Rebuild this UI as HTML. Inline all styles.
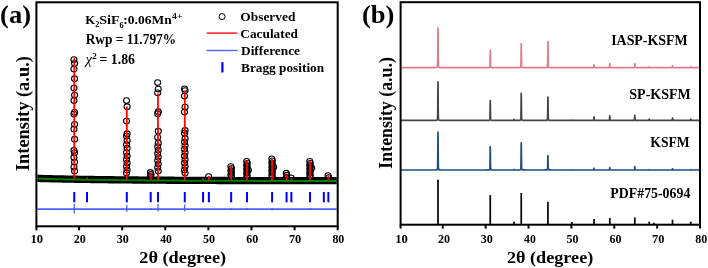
<!DOCTYPE html>
<html><head><meta charset="utf-8"><style>
html,body{margin:0;padding:0;background:#fff;}
svg{display:block;font-family:"Liberation Serif",serif;will-change:transform;}
</style></head><body>
<svg width="708" height="268" viewBox="0 0 708 268">
<rect width="708" height="268" fill="#fff"/>
<polyline points="37.4,178.41 39.4,178.46 41.4,178.51 43.4,178.56 45.4,178.61 47.4,178.66 49.4,178.71 51.4,178.75 53.4,178.80 55.4,178.84 57.4,178.89 59.4,178.93 61.4,178.97 63.4,179.01 65.4,179.05 67.4,179.09 69.4,179.13 71.4,179.16 73.4,179.20 75.4,179.23 77.4,179.27 79.4,179.30 81.4,179.33 83.4,179.37 85.4,179.40 87.4,179.43 89.4,179.46 91.4,179.49 93.4,179.52 95.4,179.55 97.4,179.57 99.4,179.60 101.4,179.63 103.4,179.65 105.4,179.68 107.4,179.70 109.4,179.73 111.4,179.75 113.4,179.77 115.4,179.80 117.4,179.82 119.4,179.84 121.4,179.86 123.4,179.88 125.4,179.90 127.4,179.92 129.4,179.94 131.4,179.96 133.4,179.98 135.4,180.00 137.4,180.01 139.4,180.03 141.4,180.05 143.4,180.06 145.4,180.08 147.4,180.10 149.4,180.11 151.4,180.13 153.4,180.14 155.4,180.16 157.4,180.17 159.4,180.18 161.4,180.20 163.4,180.21 165.4,180.22 167.4,180.24 169.4,180.25 171.4,180.26 173.4,180.27 175.4,180.28 177.4,180.30 179.4,180.31 181.4,180.32 183.4,180.33 185.4,180.34 187.4,180.35 189.4,180.36 191.4,180.37 193.4,180.38 195.4,180.39 197.4,180.40 199.4,180.41 201.4,180.41 203.4,180.42 205.4,180.43 207.4,180.44 209.4,180.45 211.4,180.45 213.4,180.46 215.4,180.47 217.4,180.48 219.4,180.48 221.4,180.49 223.4,180.50 225.4,180.50 227.4,180.51 229.4,180.52 231.4,180.52 233.4,180.53 235.4,180.54 237.4,180.54 239.4,180.55 241.4,180.55 243.4,180.56 245.4,180.56 247.4,180.57 249.4,180.57 251.4,180.58 253.4,180.58 255.4,180.59 257.4,180.59 259.4,180.60 261.4,180.60 263.4,180.61 265.4,180.61 267.4,180.61 269.4,180.62 271.4,180.62 273.4,180.63 275.4,180.63 277.4,180.63 279.4,180.64 281.4,180.64 283.4,180.64 285.4,180.65 287.4,180.65 289.4,180.65 291.4,180.66 293.4,180.66 295.4,180.66 297.4,180.67 299.4,180.67 301.4,180.67 303.4,180.68 305.4,180.68 307.4,180.68 309.4,180.68 311.4,180.69 313.4,180.69 315.4,180.69 317.4,180.69 319.4,180.70 321.4,180.70 323.4,180.70 325.4,180.70 327.4,180.70 329.4,180.71 331.4,180.71 333.4,180.71 335.4,180.71 336.7,180.71" fill="none" stroke="#000" stroke-width="7.3"/>
<g fill="none" stroke="#000" stroke-width="1.1"><ellipse cx="73.97" cy="59.50" rx="3.0" ry="2.8"/><ellipse cx="74.57" cy="63.40" rx="3.0" ry="2.8"/><ellipse cx="73.97" cy="69.00" rx="3.0" ry="2.8"/><ellipse cx="74.57" cy="78.70" rx="3.0" ry="2.8"/><ellipse cx="73.97" cy="88.10" rx="3.0" ry="2.8"/><ellipse cx="74.57" cy="95.10" rx="3.0" ry="2.8"/><ellipse cx="73.97" cy="100.60" rx="3.0" ry="2.8"/><ellipse cx="74.57" cy="112.30" rx="3.0" ry="2.8"/><ellipse cx="73.97" cy="114.00" rx="3.0" ry="2.8"/><ellipse cx="74.57" cy="124.30" rx="3.0" ry="2.8"/><ellipse cx="73.97" cy="129.00" rx="3.0" ry="2.8"/><ellipse cx="74.57" cy="139.20" rx="3.0" ry="2.8"/><ellipse cx="73.97" cy="150.40" rx="3.0" ry="2.8"/><ellipse cx="74.57" cy="152.80" rx="3.0" ry="2.8"/><ellipse cx="73.97" cy="157.50" rx="3.0" ry="2.8"/><ellipse cx="74.57" cy="162.00" rx="3.0" ry="2.8"/><ellipse cx="73.97" cy="167.10" rx="3.0" ry="2.8"/><ellipse cx="74.57" cy="171.00" rx="3.0" ry="2.8"/><ellipse cx="126.51" cy="100.60" rx="3.0" ry="2.8"/><ellipse cx="127.11" cy="106.70" rx="3.0" ry="2.8"/><ellipse cx="126.51" cy="121.10" rx="3.0" ry="2.8"/><ellipse cx="127.11" cy="133.70" rx="3.0" ry="2.8"/><ellipse cx="126.51" cy="136.00" rx="3.0" ry="2.8"/><ellipse cx="127.11" cy="140.50" rx="3.0" ry="2.8"/><ellipse cx="126.51" cy="144.50" rx="3.0" ry="2.8"/><ellipse cx="127.11" cy="148.00" rx="3.0" ry="2.8"/><ellipse cx="126.51" cy="152.50" rx="3.0" ry="2.8"/><ellipse cx="127.11" cy="156.00" rx="3.0" ry="2.8"/><ellipse cx="126.51" cy="159.50" rx="3.0" ry="2.8"/><ellipse cx="127.11" cy="163.00" rx="3.0" ry="2.8"/><ellipse cx="126.51" cy="166.50" rx="3.0" ry="2.8"/><ellipse cx="127.11" cy="170.00" rx="3.0" ry="2.8"/><ellipse cx="126.51" cy="173.00" rx="3.0" ry="2.8"/><ellipse cx="157.67" cy="82.50" rx="3.0" ry="2.8"/><ellipse cx="158.27" cy="89.10" rx="3.0" ry="2.8"/><ellipse cx="157.67" cy="92.80" rx="3.0" ry="2.8"/><ellipse cx="158.27" cy="111.70" rx="3.0" ry="2.8"/><ellipse cx="157.67" cy="113.70" rx="3.0" ry="2.8"/><ellipse cx="158.27" cy="131.20" rx="3.0" ry="2.8"/><ellipse cx="157.67" cy="137.30" rx="3.0" ry="2.8"/><ellipse cx="158.27" cy="142.90" rx="3.0" ry="2.8"/><ellipse cx="157.67" cy="146.50" rx="3.0" ry="2.8"/><ellipse cx="158.27" cy="150.00" rx="3.0" ry="2.8"/><ellipse cx="157.67" cy="153.50" rx="3.0" ry="2.8"/><ellipse cx="158.27" cy="157.00" rx="3.0" ry="2.8"/><ellipse cx="157.67" cy="160.50" rx="3.0" ry="2.8"/><ellipse cx="158.27" cy="164.00" rx="3.0" ry="2.8"/><ellipse cx="157.67" cy="167.50" rx="3.0" ry="2.8"/><ellipse cx="158.27" cy="171.00" rx="3.0" ry="2.8"/><ellipse cx="184.48" cy="88.80" rx="3.0" ry="2.8"/><ellipse cx="185.08" cy="90.50" rx="3.0" ry="2.8"/><ellipse cx="184.48" cy="96.10" rx="3.0" ry="2.8"/><ellipse cx="185.08" cy="107.10" rx="3.0" ry="2.8"/><ellipse cx="184.48" cy="111.90" rx="3.0" ry="2.8"/><ellipse cx="185.08" cy="130.40" rx="3.0" ry="2.8"/><ellipse cx="184.48" cy="133.20" rx="3.0" ry="2.8"/><ellipse cx="185.08" cy="138.40" rx="3.0" ry="2.8"/><ellipse cx="184.48" cy="142.00" rx="3.0" ry="2.8"/><ellipse cx="185.08" cy="145.50" rx="3.0" ry="2.8"/><ellipse cx="184.48" cy="149.00" rx="3.0" ry="2.8"/><ellipse cx="185.08" cy="152.50" rx="3.0" ry="2.8"/><ellipse cx="184.48" cy="156.00" rx="3.0" ry="2.8"/><ellipse cx="185.08" cy="159.50" rx="3.0" ry="2.8"/><ellipse cx="184.48" cy="163.00" rx="3.0" ry="2.8"/><ellipse cx="185.08" cy="166.50" rx="3.0" ry="2.8"/><ellipse cx="184.48" cy="170.00" rx="3.0" ry="2.8"/><ellipse cx="185.08" cy="173.00" rx="3.0" ry="2.8"/><ellipse cx="150.39" cy="172.40" rx="3.0" ry="2.8"/><ellipse cx="150.99" cy="174.40" rx="3.0" ry="2.8"/><ellipse cx="150.39" cy="176.40" rx="3.0" ry="2.8"/><ellipse cx="208.57" cy="176.60" rx="3.0" ry="2.8"/><ellipse cx="230.86" cy="166.60" rx="3.0" ry="2.8"/><ellipse cx="231.46" cy="168.60" rx="3.0" ry="2.8"/><ellipse cx="230.86" cy="170.60" rx="3.0" ry="2.8"/><ellipse cx="231.46" cy="172.60" rx="3.0" ry="2.8"/><ellipse cx="230.86" cy="174.60" rx="3.0" ry="2.8"/><ellipse cx="231.46" cy="176.60" rx="3.0" ry="2.8"/><ellipse cx="246.67" cy="161.30" rx="3.0" ry="2.8"/><ellipse cx="247.27" cy="163.30" rx="3.0" ry="2.8"/><ellipse cx="246.67" cy="165.30" rx="3.0" ry="2.8"/><ellipse cx="247.27" cy="167.30" rx="3.0" ry="2.8"/><ellipse cx="246.67" cy="169.30" rx="3.0" ry="2.8"/><ellipse cx="247.27" cy="171.30" rx="3.0" ry="2.8"/><ellipse cx="246.67" cy="173.30" rx="3.0" ry="2.8"/><ellipse cx="247.27" cy="175.30" rx="3.0" ry="2.8"/><ellipse cx="246.67" cy="177.30" rx="3.0" ry="2.8"/><ellipse cx="271.80" cy="158.80" rx="3.0" ry="2.8"/><ellipse cx="272.40" cy="160.80" rx="3.0" ry="2.8"/><ellipse cx="271.80" cy="162.80" rx="3.0" ry="2.8"/><ellipse cx="272.40" cy="164.80" rx="3.0" ry="2.8"/><ellipse cx="271.80" cy="166.80" rx="3.0" ry="2.8"/><ellipse cx="272.40" cy="168.80" rx="3.0" ry="2.8"/><ellipse cx="271.80" cy="170.80" rx="3.0" ry="2.8"/><ellipse cx="272.40" cy="172.80" rx="3.0" ry="2.8"/><ellipse cx="271.80" cy="174.80" rx="3.0" ry="2.8"/><ellipse cx="272.40" cy="176.80" rx="3.0" ry="2.8"/><ellipse cx="286.28" cy="173.20" rx="3.0" ry="2.8"/><ellipse cx="286.88" cy="175.20" rx="3.0" ry="2.8"/><ellipse cx="286.28" cy="177.20" rx="3.0" ry="2.8"/><ellipse cx="309.73" cy="161.30" rx="3.0" ry="2.8"/><ellipse cx="310.33" cy="163.30" rx="3.0" ry="2.8"/><ellipse cx="309.73" cy="165.30" rx="3.0" ry="2.8"/><ellipse cx="310.33" cy="167.30" rx="3.0" ry="2.8"/><ellipse cx="309.73" cy="169.30" rx="3.0" ry="2.8"/><ellipse cx="310.33" cy="171.30" rx="3.0" ry="2.8"/><ellipse cx="309.73" cy="173.30" rx="3.0" ry="2.8"/><ellipse cx="310.33" cy="175.30" rx="3.0" ry="2.8"/><ellipse cx="309.73" cy="177.30" rx="3.0" ry="2.8"/><ellipse cx="328.05" cy="175.50" rx="3.0" ry="2.8"/><ellipse cx="328.65" cy="177.50" rx="3.0" ry="2.8"/><ellipse cx="291.07" cy="177.80" rx="3.0" ry="2.8"/><ellipse cx="273.70" cy="167.00" rx="3.0" ry="2.8"/><ellipse cx="311.73" cy="168.00" rx="3.0" ry="2.8"/><ellipse cx="248.37" cy="170.00" rx="3.0" ry="2.8"/></g>
<g stroke="#ff0000" stroke-width="1.8"><line x1="74.27" y1="179.51" x2="74.27" y2="58.00"/><line x1="126.81" y1="180.22" x2="126.81" y2="106.40"/><line x1="157.97" y1="180.47" x2="157.97" y2="93.60"/><line x1="184.78" y1="180.64" x2="184.78" y2="90.70"/><line x1="150.69" y1="180.42" x2="150.69" y2="173.00"/><line x1="208.87" y1="180.74" x2="208.87" y2="176.00"/><line x1="231.16" y1="180.82" x2="231.16" y2="165.70"/><line x1="246.97" y1="180.87" x2="246.97" y2="160.40"/><line x1="272.10" y1="180.92" x2="272.10" y2="159.20"/><line x1="286.58" y1="180.95" x2="286.58" y2="174.10"/><line x1="291.37" y1="180.96" x2="291.37" y2="178.20"/><line x1="310.03" y1="180.98" x2="310.03" y2="161.20"/><line x1="328.35" y1="181.01" x2="328.35" y2="175.50"/><line x1="87.03" y1="179.72" x2="87.03" y2="177.60"/><line x1="203.06" y1="180.72" x2="203.06" y2="178.20"/></g>
<polyline points="37.4,178.71 39.4,178.76 41.4,178.81 43.4,178.86 45.4,178.91 47.4,178.96 49.4,179.01 51.4,179.05 53.4,179.10 55.4,179.14 57.4,179.19 59.4,179.23 61.4,179.27 63.4,179.31 65.4,179.35 67.4,179.39 69.4,179.43 71.4,179.46 73.4,179.50 75.4,179.53 77.4,179.57 79.4,179.60 81.4,179.63 83.4,179.67 85.4,179.70 87.4,179.73 89.4,179.76 91.4,179.79 93.4,179.82 95.4,179.85 97.4,179.87 99.4,179.90 101.4,179.93 103.4,179.95 105.4,179.98 107.4,180.00 109.4,180.03 111.4,180.05 113.4,180.07 115.4,180.10 117.4,180.12 119.4,180.14 121.4,180.16 123.4,180.18 125.4,180.20 127.4,180.22 129.4,180.24 131.4,180.26 133.4,180.28 135.4,180.30 137.4,180.31 139.4,180.33 141.4,180.35 143.4,180.36 145.4,180.38 147.4,180.40 149.4,180.41 151.4,180.43 153.4,180.44 155.4,180.46 157.4,180.47 159.4,180.48 161.4,180.50 163.4,180.51 165.4,180.52 167.4,180.54 169.4,180.55 171.4,180.56 173.4,180.57 175.4,180.58 177.4,180.60 179.4,180.61 181.4,180.62 183.4,180.63 185.4,180.64 187.4,180.65 189.4,180.66 191.4,180.67 193.4,180.68 195.4,180.69 197.4,180.70 199.4,180.71 201.4,180.71 203.4,180.72 205.4,180.73 207.4,180.74 209.4,180.75 211.4,180.75 213.4,180.76 215.4,180.77 217.4,180.78 219.4,180.78 221.4,180.79 223.4,180.80 225.4,180.80 227.4,180.81 229.4,180.82 231.4,180.82 233.4,180.83 235.4,180.84 237.4,180.84 239.4,180.85 241.4,180.85 243.4,180.86 245.4,180.86 247.4,180.87 249.4,180.87 251.4,180.88 253.4,180.88 255.4,180.89 257.4,180.89 259.4,180.90 261.4,180.90 263.4,180.91 265.4,180.91 267.4,180.91 269.4,180.92 271.4,180.92 273.4,180.93 275.4,180.93 277.4,180.93 279.4,180.94 281.4,180.94 283.4,180.94 285.4,180.95 287.4,180.95 289.4,180.95 291.4,180.96 293.4,180.96 295.4,180.96 297.4,180.97 299.4,180.97 301.4,180.97 303.4,180.98 305.4,180.98 307.4,180.98 309.4,180.98 311.4,180.99 313.4,180.99 315.4,180.99 317.4,180.99 319.4,181.00 321.4,181.00 323.4,181.00 325.4,181.00 327.4,181.00 329.4,181.01 331.4,181.01 333.4,181.01 335.4,181.01 336.7,181.01" fill="none" stroke="#007a00" stroke-width="2"/>
<g stroke="#0000ff" stroke-width="2"><line x1="74.27" y1="192" x2="74.27" y2="202.3"/><line x1="87.03" y1="192" x2="87.03" y2="202.3"/><line x1="126.81" y1="192" x2="126.81" y2="202.3"/><line x1="150.69" y1="192" x2="150.69" y2="202.3"/><line x1="157.97" y1="192" x2="157.97" y2="202.3"/><line x1="184.78" y1="192" x2="184.78" y2="202.3"/><line x1="203.06" y1="192" x2="203.06" y2="202.3"/><line x1="208.87" y1="192" x2="208.87" y2="202.3"/><line x1="231.16" y1="192" x2="231.16" y2="202.3"/><line x1="246.97" y1="192" x2="246.97" y2="202.3"/><line x1="272.10" y1="192" x2="272.10" y2="202.3"/><line x1="286.58" y1="192" x2="286.58" y2="202.3"/><line x1="291.37" y1="192" x2="291.37" y2="202.3"/><line x1="310.03" y1="192" x2="310.03" y2="202.3"/><line x1="323.82" y1="192" x2="323.82" y2="202.3"/><line x1="328.35" y1="192" x2="328.35" y2="202.3"/></g>
<line x1="37.4" y1="209.1" x2="336.7" y2="209.1" stroke="#4a64f5" stroke-width="1.7"/>
<g stroke="#4a64f5" stroke-width="1.3"><line x1="74.27" y1="204.10" x2="74.27" y2="213.60"/><line x1="126.81" y1="205.10" x2="126.81" y2="211.80"/><line x1="157.97" y1="204.10" x2="157.97" y2="211.60"/><line x1="184.78" y1="204.60" x2="184.78" y2="211.60"/><line x1="150.69" y1="208.10" x2="150.69" y2="210.10"/><line x1="231.16" y1="208.10" x2="231.16" y2="210.10"/><line x1="246.97" y1="208.10" x2="246.97" y2="210.10"/><line x1="272.10" y1="208.10" x2="272.10" y2="210.30"/><line x1="310.03" y1="208.10" x2="310.03" y2="210.10"/></g>
<rect x="36.4" y="2.3" width="301.30" height="224.00" fill="none" stroke="#000" stroke-width="2"/>
<g stroke="#000" stroke-width="2"><line x1="36.40" y1="226.3" x2="36.40" y2="230.3"/><line x1="79.10" y1="226.3" x2="79.10" y2="230.3"/><line x1="122.20" y1="226.3" x2="122.20" y2="230.3"/><line x1="165.30" y1="226.3" x2="165.30" y2="230.3"/><line x1="208.40" y1="226.3" x2="208.40" y2="230.3"/><line x1="251.50" y1="226.3" x2="251.50" y2="230.3"/><line x1="294.60" y1="226.3" x2="294.60" y2="230.3"/><line x1="337.70" y1="226.3" x2="337.70" y2="230.3"/></g>
<text x="30.44" y="243.20" font-size="12" font-weight="bold" textLength="12.61" lengthAdjust="spacingAndGlyphs" fill="#000" >10</text>
<text x="73.67" y="243.20" font-size="12" font-weight="bold" textLength="12.07" lengthAdjust="spacingAndGlyphs" fill="#000" >20</text>
<text x="116.77" y="243.20" font-size="12" font-weight="bold" textLength="12.07" lengthAdjust="spacingAndGlyphs" fill="#000" >30</text>
<text x="160.23" y="243.20" font-size="12" font-weight="bold" textLength="11.68" lengthAdjust="spacingAndGlyphs" fill="#000" >40</text>
<text x="202.97" y="243.20" font-size="12" font-weight="bold" textLength="12.07" lengthAdjust="spacingAndGlyphs" fill="#000" >50</text>
<text x="246.19" y="243.20" font-size="12" font-weight="bold" textLength="11.94" lengthAdjust="spacingAndGlyphs" fill="#000" >60</text>
<text x="288.91" y="243.20" font-size="12" font-weight="bold" textLength="12.33" lengthAdjust="spacingAndGlyphs" fill="#000" >70</text>
<text x="332.39" y="243.20" font-size="12" font-weight="bold" textLength="11.94" lengthAdjust="spacingAndGlyphs" fill="#000" >80</text>
<text x="139.27" y="262.60" font-size="17.5" font-weight="bold" textLength="86.89" lengthAdjust="spacingAndGlyphs" fill="#000" >2θ (degree)</text>
<g transform="translate(29,170.5) rotate(-90)"><text x="-0.55" y="0.00" font-size="18" font-weight="bold" textLength="114.90" lengthAdjust="spacingAndGlyphs" fill="#000" >Intensity (a.u.)</text></g>
<text x="0.14" y="22.50" font-size="25.5" font-weight="bold" textLength="30.99" lengthAdjust="spacingAndGlyphs" fill="#000" >(a)</text>
<circle cx="222.1" cy="16.6" r="3.0" fill="none" stroke="#000" stroke-width="1.0"/>
<line x1="206.7" y1="33.1" x2="237.3" y2="33.1" stroke="#ff0000" stroke-width="1.35"/>
<line x1="206.4" y1="50.5" x2="237.6" y2="50.5" stroke="#4a64f5" stroke-width="1.35"/>
<line x1="222.4" y1="62.2" x2="222.4" y2="72.5" stroke="#0000ff" stroke-width="2.2"/>
<text x="240.33" y="20.70" font-size="13" font-weight="bold" textLength="55.02" lengthAdjust="spacingAndGlyphs" fill="#000" >Observed</text>
<text x="240.33" y="37.80" font-size="13" font-weight="bold" textLength="57.64" lengthAdjust="spacingAndGlyphs" fill="#000" >Caculated</text>
<text x="241.03" y="55.00" font-size="13" font-weight="bold" textLength="58.98" lengthAdjust="spacingAndGlyphs" fill="#000" >Difference</text>
<text x="241.03" y="71.90" font-size="13" font-weight="bold" textLength="83.11" lengthAdjust="spacingAndGlyphs" fill="#000" >Bragg position</text>
<text x="85.34" y="24.20" font-size="13.3" font-weight="bold" textLength="9.96" lengthAdjust="spacingAndGlyphs" fill="#000" >K</text>
<text x="95.35" y="27.40" font-size="8.5" font-weight="bold" textLength="4.20" lengthAdjust="spacingAndGlyphs" fill="#000" >2</text>
<text x="99.30" y="24.20" font-size="13.3" font-weight="bold" textLength="20.33" lengthAdjust="spacingAndGlyphs" fill="#000" >SiF</text>
<text x="119.45" y="27.50" font-size="8.5" font-weight="bold" textLength="4.09" lengthAdjust="spacingAndGlyphs" fill="#000" >6</text>
<text x="123.32" y="24.20" font-size="13.3" font-weight="bold" textLength="48.36" lengthAdjust="spacingAndGlyphs" fill="#000" >:0.06Mn</text>
<text x="172.10" y="19.30" font-size="9" font-weight="bold" textLength="10.27" lengthAdjust="spacingAndGlyphs" fill="#000" >4+</text>
<text x="85.63" y="44.20" font-size="13.6" font-weight="bold" textLength="90.54" lengthAdjust="spacingAndGlyphs" fill="#000" >Rwp = 11.797%</text>
<text x="85.6" y="63.8" font-size="15" font-style="italic">χ</text>
<text x="92.2" y="58.5" font-size="9" font-weight="bold">2</text>
<text x="99.51" y="63.60" font-size="13.6" font-weight="bold" textLength="35.50" lengthAdjust="spacingAndGlyphs" fill="#000" >= 1.86</text>
<polyline points="400.60,67.60 402.04,67.60 404.19,67.60 406.33,67.60 408.48,67.60 410.62,67.60 412.76,67.60 414.91,67.60 417.05,67.60 419.20,67.60 421.34,67.60 423.48,67.60 425.63,67.60 427.77,67.60 429.92,67.60 432.06,67.60 434.20,67.58 435.83,67.52 435.92,67.52 436.00,67.51 436.09,67.50 436.18,67.49 436.26,67.48 436.35,67.47 436.43,67.45 436.52,67.44 436.61,67.42 436.69,67.39 436.78,67.36 436.86,67.32 436.95,67.28 437.03,67.22 437.12,67.14 437.21,67.04 437.29,66.90 437.38,66.69 437.46,66.35 437.55,65.59 437.63,63.47 437.72,58.07 437.81,47.70 437.89,34.62 437.98,27.80 438.06,34.62 438.15,47.70 438.23,58.07 438.32,63.47 438.41,65.59 438.49,66.35 438.58,66.69 438.66,66.90 438.75,67.04 438.84,67.14 438.92,67.22 439.01,67.28 439.09,67.32 439.18,67.36 439.26,67.39 439.35,67.42 439.44,67.44 439.52,67.45 439.61,67.47 439.69,67.48 439.78,67.49 439.86,67.50 439.95,67.51 440.04,67.52 440.64,67.55 442.78,67.60 444.92,67.60 447.07,67.60 448.53,67.60 448.61,67.60 448.70,67.60 448.78,67.60 448.87,67.60 448.95,67.60 449.04,67.60 449.13,67.60 449.21,67.60 449.30,67.60 449.38,67.60 449.47,67.60 449.56,67.60 449.64,67.60 449.73,67.60 449.81,67.60 449.90,67.60 449.98,67.60 450.07,67.60 450.16,67.60 450.24,67.59 450.33,67.59 450.41,67.58 450.50,67.55 450.58,67.52 450.67,67.50 450.76,67.52 450.84,67.55 450.93,67.58 451.01,67.59 451.10,67.59 451.18,67.60 451.27,67.60 451.36,67.60 451.44,67.60 451.53,67.60 451.61,67.60 451.70,67.60 451.78,67.60 451.87,67.60 451.96,67.60 452.04,67.60 452.13,67.60 452.21,67.60 452.30,67.60 452.39,67.60 452.47,67.60 452.56,67.60 452.64,67.60 452.73,67.60 453.50,67.60 455.64,67.60 457.79,67.60 459.93,67.60 462.08,67.60 464.22,67.60 466.36,67.60 468.51,67.60 470.65,67.60 472.80,67.60 474.94,67.60 477.08,67.60 479.23,67.60 481.37,67.60 483.52,67.60 485.66,67.60 487.80,67.57 488.10,67.57 488.19,67.56 488.28,67.56 488.36,67.56 488.45,67.55 488.53,67.55 488.62,67.54 488.70,67.54 488.79,67.53 488.88,67.52 488.96,67.51 489.05,67.50 489.13,67.48 489.22,67.46 489.30,67.43 489.39,67.40 489.48,67.36 489.56,67.29 489.65,67.21 489.73,67.06 489.82,66.73 489.91,65.81 489.95,64.87 489.99,63.46 490.08,58.95 490.16,53.26 490.25,50.30 490.33,53.26 490.42,58.95 490.51,63.46 490.59,65.81 490.68,66.73 490.76,67.06 490.85,67.21 490.93,67.29 491.02,67.36 491.11,67.40 491.19,67.43 491.28,67.46 491.36,67.48 491.45,67.50 491.53,67.51 491.62,67.52 491.71,67.53 491.79,67.54 491.88,67.54 491.96,67.55 492.05,67.55 492.09,67.56 492.13,67.56 492.22,67.56 492.31,67.56 494.24,67.59 496.38,67.60 498.52,67.60 500.67,67.60 502.81,67.60 504.96,67.60 507.10,67.60 509.24,67.60 511.39,67.60 511.86,67.60 511.95,67.60 512.03,67.60 512.12,67.60 512.20,67.60 512.29,67.60 512.37,67.60 512.46,67.60 512.55,67.60 512.63,67.60 512.72,67.60 512.80,67.60 512.89,67.60 512.97,67.60 513.06,67.60 513.15,67.60 513.23,67.60 513.32,67.59 513.40,67.59 513.49,67.59 513.53,67.59 513.57,67.58 513.66,67.57 513.75,67.53 513.83,67.45 513.92,67.35 514.00,67.30 514.09,67.35 514.18,67.45 514.26,67.53 514.35,67.57 514.43,67.58 514.52,67.59 514.60,67.59 514.69,67.59 514.78,67.60 514.86,67.60 514.95,67.60 515.03,67.60 515.12,67.60 515.20,67.60 515.29,67.60 515.38,67.60 515.46,67.60 515.55,67.60 515.63,67.60 515.68,67.60 515.72,67.60 515.80,67.60 515.89,67.60 515.98,67.60 516.06,67.60 517.82,67.58 519.11,67.55 519.19,67.55 519.28,67.55 519.36,67.54 519.45,67.54 519.54,67.53 519.62,67.52 519.71,67.51 519.79,67.50 519.88,67.49 519.96,67.47 520.05,67.46 520.14,67.43 520.22,67.41 520.31,67.37 520.39,67.32 520.48,67.26 520.56,67.18 520.65,67.05 520.74,66.85 520.82,66.39 520.91,65.11 520.99,61.85 521.08,55.60 521.16,47.71 521.25,43.60 521.34,47.71 521.42,55.60 521.51,61.85 521.59,65.11 521.68,66.39 521.76,66.85 521.85,67.05 521.94,67.18 522.02,67.26 522.11,67.32 522.19,67.37 522.28,67.41 522.37,67.43 522.45,67.46 522.54,67.47 522.62,67.49 522.71,67.50 522.79,67.51 522.88,67.52 522.97,67.53 523.05,67.54 523.14,67.54 523.22,67.55 523.31,67.55 524.25,67.58 526.40,67.60 528.54,67.60 530.68,67.60 532.83,67.60 534.97,67.60 537.12,67.60 539.26,67.60 541.40,67.60 543.55,67.60 545.69,67.55 545.78,67.55 545.86,67.55 545.95,67.54 546.04,67.54 546.12,67.53 546.21,67.52 546.29,67.51 546.38,67.51 546.46,67.49 546.55,67.48 546.64,67.46 546.72,67.44 546.81,67.42 546.89,67.39 546.98,67.35 547.06,67.30 547.15,67.23 547.24,67.14 547.32,67.01 547.41,66.79 547.49,66.29 547.58,64.91 547.66,61.40 547.75,54.65 547.84,46.14 547.92,41.70 548.01,46.14 548.09,54.65 548.18,61.40 548.26,64.91 548.35,66.29 548.44,66.79 548.52,67.01 548.61,67.14 548.69,67.23 548.78,67.30 548.87,67.35 548.95,67.39 549.04,67.42 549.12,67.44 549.21,67.46 549.29,67.48 549.38,67.49 549.47,67.51 549.55,67.51 549.64,67.52 549.72,67.53 549.81,67.54 549.89,67.54 549.98,67.55 552.12,67.59 554.27,67.60 556.41,67.60 558.56,67.60 560.70,67.60 562.84,67.60 563.96,67.60 564.04,67.60 564.13,67.60 564.22,67.60 564.30,67.60 564.39,67.60 564.47,67.60 564.56,67.60 564.64,67.60 564.73,67.60 564.82,67.60 564.90,67.60 564.99,67.60 565.07,67.60 565.16,67.60 565.25,67.60 565.33,67.60 565.42,67.60 565.50,67.60 565.59,67.60 565.67,67.60 565.76,67.60 565.85,67.60 565.93,67.60 566.02,67.60 566.10,67.60 566.19,67.60 566.27,67.60 566.36,67.60 566.45,67.60 566.53,67.60 566.62,67.60 566.70,67.60 566.79,67.60 566.87,67.60 566.96,67.60 567.05,67.60 567.13,67.60 567.22,67.60 567.30,67.60 567.39,67.60 567.48,67.60 567.56,67.60 567.65,67.60 567.73,67.60 567.82,67.60 567.90,67.60 567.99,67.60 568.08,67.60 568.16,67.60 569.28,67.60 569.75,67.60 569.83,67.60 569.92,67.60 570.00,67.60 570.09,67.60 570.18,67.60 570.26,67.60 570.35,67.60 570.43,67.60 570.52,67.60 570.61,67.60 570.69,67.60 570.78,67.60 570.86,67.60 570.95,67.60 571.03,67.60 571.12,67.60 571.21,67.59 571.29,67.59 571.38,67.59 571.42,67.59 571.46,67.58 571.55,67.57 571.63,67.53 571.72,67.45 571.81,67.35 571.89,67.30 571.98,67.35 572.06,67.45 572.15,67.53 572.23,67.57 572.32,67.58 572.41,67.59 572.49,67.59 572.58,67.59 572.66,67.60 572.75,67.60 572.84,67.60 572.92,67.60 573.01,67.60 573.09,67.60 573.18,67.60 573.26,67.60 573.35,67.60 573.44,67.60 573.52,67.60 573.56,67.60 573.61,67.60 573.69,67.60 573.78,67.60 573.86,67.60 573.95,67.60 575.71,67.60 577.85,67.60 580.00,67.60 582.14,67.60 584.28,67.60 586.43,67.60 588.57,67.60 590.72,67.60 591.92,67.59 592.00,67.59 592.09,67.59 592.17,67.59 592.26,67.59 592.35,67.59 592.43,67.59 592.52,67.59 592.60,67.59 592.69,67.59 592.77,67.59 592.86,67.58 592.95,67.58 593.03,67.58 593.12,67.57 593.20,67.57 593.29,67.56 593.37,67.55 593.46,67.54 593.55,67.51 593.63,67.46 593.72,67.31 593.80,66.93 593.89,66.20 593.97,65.28 594.06,64.80 594.15,65.28 594.23,66.20 594.32,66.93 594.40,67.31 594.49,67.46 594.58,67.51 594.66,67.54 594.75,67.55 594.83,67.56 594.92,67.57 595.00,67.57 595.09,67.58 595.18,67.58 595.26,67.58 595.35,67.59 595.43,67.59 595.52,67.59 595.60,67.59 595.69,67.59 595.78,67.59 595.86,67.59 595.95,67.59 596.03,67.59 596.12,67.59 597.15,67.60 599.29,67.60 601.44,67.60 603.58,67.60 605.72,67.60 607.65,67.59 607.74,67.59 607.83,67.59 607.87,67.59 607.91,67.59 608.00,67.59 608.08,67.59 608.17,67.59 608.25,67.59 608.34,67.58 608.43,67.58 608.51,67.58 608.60,67.58 608.68,67.57 608.77,67.57 608.85,67.56 608.94,67.55 609.03,67.54 609.11,67.53 609.20,67.51 609.28,67.47 609.37,67.40 609.45,67.19 609.54,66.64 609.63,65.60 609.71,64.29 609.80,63.60 609.88,64.29 609.97,65.60 610.01,66.18 610.05,66.64 610.14,67.18 610.23,67.40 610.31,67.47 610.40,67.51 610.48,67.53 610.57,67.54 610.66,67.55 610.74,67.56 610.83,67.57 610.91,67.57 611.00,67.58 611.08,67.58 611.17,67.58 611.26,67.58 611.34,67.59 611.43,67.59 611.51,67.59 611.60,67.59 611.68,67.59 611.77,67.59 611.86,67.59 612.16,67.59 614.30,67.60 616.44,67.60 618.59,67.60 620.73,67.60 622.88,67.60 625.02,67.60 627.16,67.60 629.31,67.60 631.45,67.60 632.65,67.59 632.74,67.59 632.82,67.59 632.91,67.59 633.00,67.59 633.08,67.59 633.17,67.59 633.25,67.59 633.34,67.58 633.42,67.58 633.51,67.58 633.60,67.58 633.68,67.57 633.77,67.57 633.85,67.56 633.94,67.55 634.02,67.54 634.11,67.53 634.20,67.51 634.28,67.47 634.37,67.40 634.45,67.18 634.54,66.64 634.63,65.60 634.71,64.29 634.80,63.60 634.88,64.29 634.97,65.60 635.05,66.64 635.14,67.18 635.23,67.40 635.31,67.47 635.40,67.51 635.48,67.53 635.57,67.54 635.65,67.55 635.74,67.56 635.83,67.57 635.91,67.57 636.00,67.58 636.08,67.58 636.17,67.58 636.25,67.58 636.34,67.59 636.43,67.59 636.51,67.59 636.60,67.59 636.68,67.59 636.77,67.59 636.85,67.59 637.88,67.60 640.03,67.60 642.17,67.60 644.32,67.60 646.46,67.60 647.06,67.60 647.15,67.60 647.23,67.60 647.32,67.60 647.40,67.60 647.49,67.60 647.57,67.60 647.66,67.60 647.75,67.60 647.83,67.60 647.92,67.60 648.00,67.60 648.09,67.59 648.18,67.59 648.26,67.59 648.35,67.59 648.43,67.59 648.52,67.59 648.60,67.58 648.69,67.57 648.78,67.56 648.86,67.52 648.95,67.41 649.03,67.20 649.12,66.94 649.20,66.80 649.29,66.94 649.38,67.20 649.46,67.41 649.55,67.52 649.63,67.56 649.72,67.57 649.80,67.58 649.89,67.59 649.98,67.59 650.06,67.59 650.15,67.59 650.23,67.59 650.32,67.59 650.40,67.60 650.49,67.60 650.58,67.60 650.66,67.60 650.75,67.60 650.83,67.60 650.92,67.60 651.01,67.60 651.09,67.60 651.18,67.60 651.26,67.60 651.82,67.60 651.91,67.60 651.99,67.60 652.08,67.60 652.16,67.60 652.25,67.60 652.33,67.60 652.42,67.60 652.51,67.60 652.59,67.60 652.68,67.60 652.76,67.60 652.85,67.60 652.89,67.60 652.93,67.60 653.02,67.60 653.11,67.60 653.19,67.60 653.28,67.60 653.36,67.60 653.45,67.60 653.54,67.59 653.62,67.59 653.71,67.58 653.79,67.55 653.88,67.52 653.96,67.50 654.05,67.52 654.14,67.55 654.22,67.58 654.31,67.59 654.39,67.59 654.48,67.60 654.56,67.60 654.65,67.60 654.74,67.60 654.82,67.60 654.91,67.60 654.99,67.60 655.04,67.60 655.08,67.60 655.16,67.60 655.25,67.60 655.34,67.60 655.42,67.60 655.51,67.60 655.59,67.60 655.68,67.60 655.76,67.60 655.85,67.60 655.94,67.60 656.02,67.60 657.18,67.60 659.32,67.60 661.47,67.60 663.61,67.60 665.76,67.60 667.90,67.60 670.04,67.60 670.39,67.60 670.47,67.60 670.56,67.60 670.64,67.60 670.73,67.60 670.82,67.59 670.90,67.59 670.99,67.59 671.07,67.59 671.16,67.59 671.24,67.59 671.33,67.59 671.42,67.59 671.50,67.59 671.59,67.58 671.67,67.58 671.76,67.57 671.84,67.57 671.93,67.56 672.02,67.54 672.10,67.51 672.19,67.41 672.27,67.17 672.36,66.70 672.45,66.11 672.53,65.80 672.62,66.11 672.70,66.70 672.79,67.17 672.87,67.41 672.96,67.51 673.05,67.54 673.13,67.56 673.22,67.57 673.30,67.57 673.39,67.58 673.47,67.58 673.56,67.59 673.65,67.59 673.73,67.59 673.82,67.59 673.90,67.59 673.99,67.59 674.07,67.59 674.16,67.59 674.25,67.59 674.33,67.60 674.42,67.60 674.50,67.60 674.59,67.60 676.48,67.60 678.62,67.60 680.76,67.60 682.91,67.60 684.11,67.60 684.19,67.60 684.28,67.60 684.37,67.60 684.45,67.60 684.54,67.60 684.62,67.60 684.71,67.60 684.79,67.60 684.88,67.60 684.97,67.60 685.05,67.60 685.14,67.60 685.22,67.60 685.31,67.60 685.40,67.60 685.48,67.60 685.57,67.60 685.65,67.60 685.74,67.60 685.82,67.60 685.91,67.60 686.00,67.60 686.08,67.60 686.17,67.60 686.25,67.60 686.34,67.60 686.42,67.60 686.51,67.60 686.60,67.60 686.68,67.60 686.77,67.60 686.85,67.60 686.94,67.60 687.02,67.60 687.11,67.60 687.20,67.60 687.28,67.60 687.37,67.60 687.45,67.60 687.54,67.60 687.62,67.60 687.71,67.60 687.80,67.60 687.88,67.60 687.97,67.60 688.05,67.60 688.14,67.60 688.23,67.60 688.31,67.60 688.61,67.60 688.70,67.60 688.78,67.60 688.87,67.60 688.95,67.60 689.04,67.60 689.13,67.60 689.21,67.60 689.30,67.60 689.34,67.60 689.38,67.60 689.47,67.60 689.55,67.60 689.64,67.59 689.73,67.59 689.81,67.59 689.90,67.59 689.98,67.59 690.07,67.59 690.15,67.58 690.24,67.57 690.33,67.56 690.41,67.52 690.50,67.41 690.58,67.20 690.67,66.94 690.76,66.80 690.84,66.94 690.93,67.20 691.01,67.41 691.10,67.52 691.18,67.56 691.27,67.57 691.36,67.58 691.44,67.59 691.48,67.59 691.53,67.59 691.61,67.59 691.70,67.59 691.78,67.59 691.87,67.59 691.96,67.60 692.04,67.60 692.13,67.60 692.21,67.60 692.30,67.60 692.38,67.60 692.47,67.60 692.56,67.60 692.64,67.60 692.73,67.60 692.81,67.60 693.63,67.60 695.77,67.60 697.92,67.60 700.00,67.60" fill="none" stroke="#e07c8c" stroke-width="1.7" stroke-linejoin="round"/>
<polyline points="400.60,120.40 402.04,120.40 404.19,120.40 406.33,120.40 408.48,120.40 410.62,120.40 412.76,120.40 414.91,120.40 417.05,120.40 419.20,120.40 421.34,120.40 423.48,120.40 425.63,120.40 427.77,120.40 429.92,120.40 432.06,120.40 434.20,120.38 435.83,120.33 435.92,120.32 436.00,120.31 436.09,120.31 436.18,120.30 436.26,120.29 436.35,120.27 436.43,120.26 436.52,120.24 436.61,120.22 436.69,120.20 436.78,120.17 436.86,120.13 436.95,120.09 437.03,120.03 437.12,119.96 437.21,119.86 437.29,119.72 437.38,119.52 437.46,119.19 437.55,118.45 437.63,116.41 437.72,111.18 437.81,101.15 437.89,88.50 437.98,81.90 438.06,88.50 438.15,101.15 438.23,111.18 438.32,116.41 438.41,118.45 438.49,119.19 438.58,119.52 438.66,119.72 438.75,119.86 438.84,119.96 438.92,120.03 439.01,120.09 439.09,120.13 439.18,120.17 439.26,120.20 439.35,120.22 439.44,120.24 439.52,120.26 439.61,120.27 439.69,120.29 439.78,120.30 439.86,120.31 439.95,120.31 440.04,120.32 440.64,120.35 442.78,120.40 444.92,120.40 447.07,120.40 448.53,120.40 448.61,120.40 448.70,120.40 448.78,120.40 448.87,120.40 448.95,120.40 449.04,120.40 449.13,120.40 449.21,120.40 449.30,120.40 449.38,120.40 449.47,120.40 449.56,120.40 449.64,120.40 449.73,120.40 449.81,120.40 449.90,120.40 449.98,120.40 450.07,120.40 450.16,120.40 450.24,120.39 450.33,120.39 450.41,120.38 450.50,120.35 450.58,120.32 450.67,120.30 450.76,120.32 450.84,120.35 450.93,120.38 451.01,120.39 451.10,120.39 451.18,120.40 451.27,120.40 451.36,120.40 451.44,120.40 451.53,120.40 451.61,120.40 451.70,120.40 451.78,120.40 451.87,120.40 451.96,120.40 452.04,120.40 452.13,120.40 452.21,120.40 452.30,120.40 452.39,120.40 452.47,120.40 452.56,120.40 452.64,120.40 452.73,120.40 453.50,120.40 455.64,120.40 457.79,120.40 459.93,120.40 462.08,120.40 464.22,120.40 466.36,120.40 468.51,120.40 470.65,120.40 472.80,120.40 474.94,120.40 477.08,120.40 479.23,120.40 481.37,120.40 483.52,120.40 485.66,120.40 487.80,120.37 488.10,120.36 488.19,120.36 488.28,120.36 488.36,120.35 488.45,120.35 488.53,120.34 488.62,120.33 488.70,120.33 488.79,120.32 488.88,120.31 488.96,120.30 489.05,120.28 489.13,120.26 489.22,120.24 489.30,120.21 489.39,120.17 489.48,120.12 489.56,120.05 489.65,119.95 489.73,119.78 489.82,119.39 489.91,118.34 489.95,117.26 489.99,115.63 490.08,110.45 490.16,103.91 490.25,100.50 490.33,103.91 490.42,110.45 490.51,115.63 490.59,118.34 490.68,119.39 490.76,119.78 490.85,119.95 490.93,120.05 491.02,120.12 491.11,120.17 491.19,120.21 491.28,120.24 491.36,120.26 491.45,120.28 491.53,120.30 491.62,120.31 491.71,120.32 491.79,120.33 491.88,120.33 491.96,120.34 492.05,120.35 492.09,120.35 492.13,120.35 492.22,120.36 492.31,120.36 494.24,120.39 496.38,120.40 498.52,120.40 500.67,120.40 502.81,120.40 504.96,120.40 507.10,120.40 509.24,120.40 511.39,120.40 511.86,120.40 511.95,120.40 512.03,120.40 512.12,120.40 512.20,120.40 512.29,120.40 512.37,120.40 512.46,120.40 512.55,120.40 512.63,120.39 512.72,120.39 512.80,120.39 512.89,120.39 512.97,120.39 513.06,120.39 513.15,120.39 513.23,120.38 513.32,120.38 513.40,120.37 513.49,120.37 513.53,120.36 513.57,120.34 513.66,120.29 513.75,120.14 513.83,119.85 513.92,119.49 514.00,119.30 514.09,119.49 514.18,119.85 514.26,120.14 514.35,120.29 514.43,120.34 514.52,120.37 514.60,120.37 514.69,120.38 514.78,120.38 514.86,120.39 514.95,120.39 515.03,120.39 515.12,120.39 515.20,120.39 515.29,120.39 515.38,120.39 515.46,120.40 515.55,120.40 515.63,120.40 515.68,120.40 515.72,120.40 515.80,120.40 515.89,120.40 515.98,120.40 516.06,120.40 517.82,120.38 519.11,120.35 519.19,120.34 519.28,120.34 519.36,120.33 519.45,120.33 519.54,120.32 519.62,120.31 519.71,120.30 519.79,120.29 519.88,120.27 519.96,120.26 520.05,120.24 520.14,120.21 520.22,120.18 520.31,120.14 520.39,120.09 520.48,120.02 520.56,119.92 520.65,119.78 520.74,119.55 520.82,119.03 520.91,117.59 520.99,113.91 521.08,106.85 521.16,97.94 521.25,93.30 521.34,97.94 521.42,106.85 521.51,113.91 521.59,117.59 521.68,119.03 521.76,119.55 521.85,119.78 521.94,119.92 522.02,120.02 522.11,120.09 522.19,120.14 522.28,120.18 522.37,120.21 522.45,120.24 522.54,120.26 522.62,120.27 522.71,120.29 522.79,120.30 522.88,120.31 522.97,120.32 523.05,120.33 523.14,120.33 523.22,120.34 523.31,120.34 524.25,120.37 526.40,120.40 528.54,120.40 530.68,120.40 532.83,120.40 534.97,120.40 537.12,120.40 539.26,120.40 541.40,120.40 543.55,120.40 545.69,120.36 545.78,120.36 545.86,120.35 545.95,120.35 546.04,120.34 546.12,120.34 546.21,120.33 546.29,120.32 546.38,120.31 546.46,120.30 546.55,120.29 546.64,120.28 546.72,120.26 546.81,120.24 546.89,120.21 546.98,120.18 547.06,120.13 547.15,120.07 547.24,119.99 547.32,119.87 547.41,119.67 547.49,119.22 547.58,117.97 547.66,114.80 547.75,108.70 547.84,101.01 547.92,97.00 548.01,101.01 548.09,108.70 548.18,114.80 548.26,117.97 548.35,119.22 548.44,119.67 548.52,119.87 548.61,119.99 548.69,120.07 548.78,120.13 548.87,120.18 548.95,120.21 549.04,120.24 549.12,120.26 549.21,120.28 549.29,120.29 549.38,120.30 549.47,120.31 549.55,120.32 549.64,120.33 549.72,120.34 549.81,120.34 549.89,120.35 549.98,120.35 552.12,120.39 554.27,120.40 556.41,120.40 558.56,120.40 560.70,120.40 562.84,120.40 563.96,120.40 564.04,120.40 564.13,120.40 564.22,120.40 564.30,120.40 564.39,120.40 564.47,120.40 564.56,120.40 564.64,120.40 564.73,120.40 564.82,120.40 564.90,120.40 564.99,120.40 565.07,120.40 565.16,120.40 565.25,120.40 565.33,120.40 565.42,120.40 565.50,120.40 565.59,120.40 565.67,120.40 565.76,120.40 565.85,120.40 565.93,120.40 566.02,120.40 566.10,120.40 566.19,120.40 566.27,120.40 566.36,120.40 566.45,120.40 566.53,120.40 566.62,120.40 566.70,120.40 566.79,120.40 566.87,120.40 566.96,120.40 567.05,120.40 567.13,120.40 567.22,120.40 567.30,120.40 567.39,120.40 567.48,120.40 567.56,120.40 567.65,120.40 567.73,120.40 567.82,120.40 567.90,120.40 567.99,120.40 568.08,120.40 568.16,120.40 569.28,120.40 569.75,120.40 569.83,120.40 569.92,120.40 570.00,120.40 570.09,120.40 570.18,120.40 570.26,120.40 570.35,120.40 570.43,120.40 570.52,120.40 570.61,120.40 570.69,120.40 570.78,120.40 570.86,120.40 570.95,120.40 571.03,120.40 571.12,120.40 571.21,120.39 571.29,120.39 571.38,120.39 571.42,120.39 571.46,120.38 571.55,120.37 571.63,120.33 571.72,120.25 571.81,120.15 571.89,120.10 571.98,120.15 572.06,120.25 572.15,120.33 572.23,120.37 572.32,120.38 572.41,120.39 572.49,120.39 572.58,120.39 572.66,120.40 572.75,120.40 572.84,120.40 572.92,120.40 573.01,120.40 573.09,120.40 573.18,120.40 573.26,120.40 573.35,120.40 573.44,120.40 573.52,120.40 573.56,120.40 573.61,120.40 573.69,120.40 573.78,120.40 573.86,120.40 573.95,120.40 575.71,120.40 577.85,120.40 580.00,120.40 582.14,120.40 584.28,120.40 586.43,120.40 588.57,120.40 590.72,120.40 591.92,120.39 592.00,120.39 592.09,120.39 592.17,120.39 592.26,120.39 592.35,120.39 592.43,120.39 592.52,120.39 592.60,120.39 592.69,120.38 592.77,120.38 592.86,120.38 592.95,120.38 593.03,120.37 593.12,120.37 593.20,120.36 593.29,120.35 593.37,120.34 593.46,120.32 593.55,120.29 593.63,120.22 593.72,120.04 593.80,119.56 593.89,118.65 593.97,117.50 594.06,116.90 594.15,117.50 594.23,118.65 594.32,119.56 594.40,120.04 594.49,120.22 594.58,120.29 594.66,120.32 594.75,120.34 594.83,120.35 594.92,120.36 595.00,120.37 595.09,120.37 595.18,120.38 595.26,120.38 595.35,120.38 595.43,120.38 595.52,120.39 595.60,120.39 595.69,120.39 595.78,120.39 595.86,120.39 595.95,120.39 596.03,120.39 596.12,120.39 597.15,120.40 599.29,120.40 601.44,120.40 603.58,120.40 605.72,120.40 607.65,120.39 607.74,120.39 607.83,120.39 607.87,120.39 607.91,120.39 608.00,120.39 608.08,120.39 608.17,120.39 608.25,120.38 608.34,120.38 608.43,120.38 608.51,120.38 608.60,120.37 608.68,120.37 608.77,120.36 608.85,120.36 608.94,120.35 609.03,120.34 609.11,120.32 609.20,120.30 609.28,120.26 609.37,120.17 609.45,119.93 609.54,119.32 609.63,118.15 609.71,116.67 609.80,115.90 609.88,116.67 609.97,118.15 610.01,118.81 610.05,119.32 610.14,119.93 610.23,120.17 610.31,120.26 610.40,120.30 610.48,120.32 610.57,120.34 610.66,120.35 610.74,120.36 610.83,120.36 610.91,120.37 611.00,120.37 611.08,120.38 611.17,120.38 611.26,120.38 611.34,120.38 611.43,120.39 611.51,120.39 611.60,120.39 611.68,120.39 611.77,120.39 611.86,120.39 612.16,120.39 614.30,120.40 616.44,120.40 618.59,120.40 620.73,120.40 622.88,120.40 625.02,120.40 627.16,120.40 629.31,120.40 631.45,120.40 632.65,120.39 632.74,120.39 632.82,120.39 632.91,120.39 633.00,120.39 633.08,120.39 633.17,120.38 633.25,120.38 633.34,120.38 633.42,120.38 633.51,120.37 633.60,120.37 633.68,120.37 633.77,120.36 633.85,120.35 633.94,120.34 634.02,120.33 634.11,120.31 634.20,120.29 634.28,120.24 634.37,120.15 634.45,119.88 634.54,119.20 634.63,117.90 634.71,116.26 634.80,115.40 634.88,116.26 634.97,117.90 635.05,119.20 635.14,119.88 635.23,120.15 635.31,120.24 635.40,120.29 635.48,120.31 635.57,120.33 635.65,120.34 635.74,120.35 635.83,120.36 635.91,120.37 636.00,120.37 636.08,120.37 636.17,120.38 636.25,120.38 636.34,120.38 636.43,120.38 636.51,120.39 636.60,120.39 636.68,120.39 636.77,120.39 636.85,120.39 637.88,120.40 640.03,120.40 642.17,120.40 644.32,120.40 646.46,120.40 647.06,120.40 647.15,120.40 647.23,120.40 647.32,120.40 647.40,120.40 647.49,120.40 647.57,120.40 647.66,120.40 647.75,120.39 647.83,120.39 647.92,120.39 648.00,120.39 648.09,120.39 648.18,120.39 648.26,120.39 648.35,120.38 648.43,120.38 648.52,120.38 648.60,120.37 648.69,120.36 648.78,120.33 648.86,120.27 648.95,120.09 649.03,119.75 649.12,119.32 649.20,119.10 649.29,119.32 649.38,119.75 649.46,120.09 649.55,120.27 649.63,120.33 649.72,120.36 649.80,120.37 649.89,120.38 649.98,120.38 650.06,120.38 650.15,120.39 650.23,120.39 650.32,120.39 650.40,120.39 650.49,120.39 650.58,120.39 650.66,120.39 650.75,120.40 650.83,120.40 650.92,120.40 651.01,120.40 651.09,120.40 651.18,120.40 651.26,120.40 651.82,120.40 651.91,120.40 651.99,120.40 652.08,120.40 652.16,120.40 652.25,120.40 652.33,120.40 652.42,120.40 652.51,120.40 652.59,120.40 652.68,120.40 652.76,120.40 652.85,120.40 652.89,120.40 652.93,120.40 653.02,120.40 653.11,120.40 653.19,120.40 653.28,120.40 653.36,120.40 653.45,120.40 653.54,120.39 653.62,120.39 653.71,120.38 653.79,120.35 653.88,120.32 653.96,120.30 654.05,120.32 654.14,120.35 654.22,120.38 654.31,120.39 654.39,120.39 654.48,120.40 654.56,120.40 654.65,120.40 654.74,120.40 654.82,120.40 654.91,120.40 654.99,120.40 655.04,120.40 655.08,120.40 655.16,120.40 655.25,120.40 655.34,120.40 655.42,120.40 655.51,120.40 655.59,120.40 655.68,120.40 655.76,120.40 655.85,120.40 655.94,120.40 656.02,120.40 657.18,120.40 659.32,120.40 661.47,120.40 663.61,120.40 665.76,120.40 667.90,120.40 670.04,120.40 670.39,120.40 670.47,120.40 670.56,120.39 670.64,120.39 670.73,120.39 670.82,120.39 670.90,120.39 670.99,120.39 671.07,120.39 671.16,120.39 671.24,120.39 671.33,120.39 671.42,120.38 671.50,120.38 671.59,120.38 671.67,120.37 671.76,120.37 671.84,120.36 671.93,120.35 672.02,120.33 672.10,120.28 672.19,120.16 672.27,119.85 672.36,119.25 672.45,118.49 672.53,118.10 672.62,118.49 672.70,119.25 672.79,119.85 672.87,120.16 672.96,120.28 673.05,120.33 673.13,120.35 673.22,120.36 673.30,120.37 673.39,120.37 673.47,120.38 673.56,120.38 673.65,120.38 673.73,120.39 673.82,120.39 673.90,120.39 673.99,120.39 674.07,120.39 674.16,120.39 674.25,120.39 674.33,120.39 674.42,120.39 674.50,120.39 674.59,120.40 676.48,120.40 678.62,120.40 680.76,120.40 682.91,120.40 684.11,120.40 684.19,120.40 684.28,120.40 684.37,120.40 684.45,120.40 684.54,120.40 684.62,120.40 684.71,120.40 684.79,120.40 684.88,120.40 684.97,120.40 685.05,120.40 685.14,120.40 685.22,120.40 685.31,120.40 685.40,120.40 685.48,120.40 685.57,120.40 685.65,120.40 685.74,120.40 685.82,120.40 685.91,120.40 686.00,120.40 686.08,120.40 686.17,120.40 686.25,120.40 686.34,120.40 686.42,120.40 686.51,120.40 686.60,120.40 686.68,120.40 686.77,120.40 686.85,120.40 686.94,120.40 687.02,120.40 687.11,120.40 687.20,120.40 687.28,120.40 687.37,120.40 687.45,120.40 687.54,120.40 687.62,120.40 687.71,120.40 687.80,120.40 687.88,120.40 687.97,120.40 688.05,120.40 688.14,120.40 688.23,120.40 688.31,120.40 688.61,120.40 688.70,120.40 688.78,120.40 688.87,120.40 688.95,120.40 689.04,120.40 689.13,120.40 689.21,120.40 689.30,120.39 689.34,120.39 689.38,120.39 689.47,120.39 689.55,120.39 689.64,120.39 689.73,120.39 689.81,120.39 689.90,120.38 689.98,120.38 690.07,120.38 690.15,120.37 690.24,120.36 690.33,120.33 690.41,120.27 690.50,120.09 690.58,119.75 690.67,119.32 690.76,119.10 690.84,119.32 690.93,119.75 691.01,120.09 691.10,120.27 691.18,120.33 691.27,120.36 691.36,120.37 691.44,120.38 691.48,120.38 691.53,120.38 691.61,120.38 691.70,120.39 691.78,120.39 691.87,120.39 691.96,120.39 692.04,120.39 692.13,120.39 692.21,120.39 692.30,120.40 692.38,120.40 692.47,120.40 692.56,120.40 692.64,120.40 692.73,120.40 692.81,120.40 693.63,120.40 695.77,120.40 697.92,120.40 700.00,120.40" fill="none" stroke="#454545" stroke-width="1.7" stroke-linejoin="round"/>
<polyline points="400.60,170.00 402.04,170.00 404.19,170.00 406.33,170.00 408.48,170.00 410.62,170.00 412.76,170.00 414.91,170.00 417.05,170.00 419.20,170.00 421.34,170.00 423.48,170.00 425.63,170.00 427.77,170.00 429.92,170.00 432.06,170.00 434.20,169.98 435.83,169.93 435.92,169.92 436.00,169.91 436.09,169.91 436.18,169.90 436.26,169.89 436.35,169.88 436.43,169.86 436.52,169.85 436.61,169.83 436.69,169.80 436.78,169.77 436.86,169.74 436.95,169.69 437.03,169.64 437.12,169.56 437.21,169.47 437.29,169.33 437.38,169.14 437.46,168.81 437.55,168.09 437.63,166.08 437.72,160.95 437.81,151.10 437.89,138.68 437.98,132.20 438.06,138.68 438.15,151.10 438.23,160.95 438.32,166.08 438.41,168.09 438.49,168.81 438.58,169.14 438.66,169.33 438.75,169.47 438.84,169.56 438.92,169.64 439.01,169.69 439.09,169.74 439.18,169.77 439.26,169.80 439.35,169.83 439.44,169.85 439.52,169.86 439.61,169.88 439.69,169.89 439.78,169.90 439.86,169.91 439.95,169.91 440.04,169.92 440.64,169.95 442.78,170.00 444.92,170.00 447.07,170.00 448.53,170.00 448.61,170.00 448.70,170.00 448.78,170.00 448.87,170.00 448.95,170.00 449.04,170.00 449.13,170.00 449.21,170.00 449.30,170.00 449.38,170.00 449.47,170.00 449.56,170.00 449.64,170.00 449.73,170.00 449.81,170.00 449.90,170.00 449.98,170.00 450.07,170.00 450.16,170.00 450.24,170.00 450.33,170.00 450.41,170.00 450.50,170.00 450.58,170.00 450.67,170.00 450.76,170.00 450.84,170.00 450.93,170.00 451.01,170.00 451.10,170.00 451.18,170.00 451.27,170.00 451.36,170.00 451.44,170.00 451.53,170.00 451.61,170.00 451.70,170.00 451.78,170.00 451.87,170.00 451.96,170.00 452.04,170.00 452.13,170.00 452.21,170.00 452.30,170.00 452.39,170.00 452.47,170.00 452.56,170.00 452.64,170.00 452.73,170.00 453.50,170.00 455.64,170.00 457.79,170.00 459.93,170.00 462.08,170.00 464.22,170.00 466.36,170.00 468.51,170.00 470.65,170.00 472.80,170.00 474.94,170.00 477.08,170.00 479.23,170.00 481.37,170.00 483.52,170.00 485.66,170.00 487.80,169.97 488.10,169.96 488.19,169.95 488.28,169.95 488.36,169.94 488.45,169.94 488.53,169.93 488.62,169.92 488.70,169.91 488.79,169.90 488.88,169.89 488.96,169.88 489.05,169.86 489.13,169.84 489.22,169.81 489.30,169.78 489.39,169.73 489.48,169.67 489.56,169.59 489.65,169.47 489.73,169.27 489.82,168.82 489.91,167.58 489.95,166.33 489.99,164.42 490.08,158.35 490.16,150.69 490.25,146.70 490.33,150.69 490.42,158.35 490.51,164.42 490.59,167.58 490.68,168.82 490.76,169.27 490.85,169.47 490.93,169.59 491.02,169.67 491.11,169.73 491.19,169.78 491.28,169.81 491.36,169.84 491.45,169.86 491.53,169.88 491.62,169.89 491.71,169.90 491.79,169.91 491.88,169.92 491.96,169.93 492.05,169.94 492.09,169.94 492.13,169.94 492.22,169.95 492.31,169.95 494.24,169.99 496.38,170.00 498.52,170.00 500.67,170.00 502.81,170.00 504.96,170.00 507.10,170.00 509.24,170.00 511.39,170.00 511.86,170.00 511.95,170.00 512.03,170.00 512.12,170.00 512.20,170.00 512.29,170.00 512.37,170.00 512.46,170.00 512.55,170.00 512.63,170.00 512.72,170.00 512.80,170.00 512.89,170.00 512.97,170.00 513.06,170.00 513.15,169.99 513.23,169.99 513.32,169.99 513.40,169.99 513.49,169.98 513.53,169.98 513.57,169.97 513.66,169.95 513.75,169.88 513.83,169.75 513.92,169.59 514.00,169.50 514.09,169.59 514.18,169.75 514.26,169.88 514.35,169.95 514.43,169.97 514.52,169.98 514.60,169.99 514.69,169.99 514.78,169.99 514.86,169.99 514.95,170.00 515.03,170.00 515.12,170.00 515.20,170.00 515.29,170.00 515.38,170.00 515.46,170.00 515.55,170.00 515.63,170.00 515.68,170.00 515.72,170.00 515.80,170.00 515.89,170.00 515.98,170.00 516.06,170.00 517.82,169.98 519.11,169.95 519.19,169.94 519.28,169.94 519.36,169.93 519.45,169.93 519.54,169.92 519.62,169.91 519.71,169.90 519.79,169.89 519.88,169.87 519.96,169.86 520.05,169.84 520.14,169.81 520.22,169.78 520.31,169.74 520.39,169.69 520.48,169.62 520.56,169.52 520.65,169.38 520.74,169.15 520.82,168.62 520.91,167.18 520.99,163.49 521.08,156.40 521.16,147.46 521.25,142.80 521.34,147.46 521.42,156.40 521.51,163.49 521.59,167.18 521.68,168.62 521.76,169.15 521.85,169.38 521.94,169.52 522.02,169.62 522.11,169.69 522.19,169.74 522.28,169.78 522.37,169.81 522.45,169.84 522.54,169.86 522.62,169.87 522.71,169.89 522.79,169.90 522.88,169.91 522.97,169.92 523.05,169.93 523.14,169.93 523.22,169.94 523.31,169.94 524.25,169.97 526.40,170.00 528.54,170.00 530.68,170.00 532.83,170.00 534.97,170.00 537.12,170.00 539.26,170.00 541.40,170.00 543.55,170.00 545.69,169.97 545.78,169.97 545.86,169.97 545.95,169.97 546.04,169.96 546.12,169.96 546.21,169.96 546.29,169.95 546.38,169.95 546.46,169.94 546.55,169.93 546.64,169.92 546.72,169.91 546.81,169.90 546.89,169.88 546.98,169.86 547.06,169.83 547.15,169.80 547.24,169.75 547.32,169.67 547.41,169.55 547.49,169.27 547.58,168.51 547.66,166.55 547.75,162.80 547.84,158.07 547.92,155.60 548.01,158.07 548.09,162.80 548.18,166.55 548.26,168.51 548.35,169.27 548.44,169.55 548.52,169.67 548.61,169.75 548.69,169.80 548.78,169.83 548.87,169.86 548.95,169.88 549.04,169.90 549.12,169.91 549.21,169.92 549.29,169.93 549.38,169.94 549.47,169.95 549.55,169.95 549.64,169.96 549.72,169.96 549.81,169.96 549.89,169.97 549.98,169.97 552.12,169.99 554.27,170.00 556.41,170.00 558.56,170.00 560.70,170.00 562.84,170.00 563.96,170.00 564.04,170.00 564.13,170.00 564.22,170.00 564.30,170.00 564.39,170.00 564.47,170.00 564.56,170.00 564.64,170.00 564.73,170.00 564.82,170.00 564.90,170.00 564.99,170.00 565.07,170.00 565.16,170.00 565.25,170.00 565.33,170.00 565.42,170.00 565.50,170.00 565.59,170.00 565.67,170.00 565.76,170.00 565.85,170.00 565.93,170.00 566.02,170.00 566.10,170.00 566.19,170.00 566.27,170.00 566.36,170.00 566.45,170.00 566.53,170.00 566.62,170.00 566.70,170.00 566.79,170.00 566.87,170.00 566.96,170.00 567.05,170.00 567.13,170.00 567.22,170.00 567.30,170.00 567.39,170.00 567.48,170.00 567.56,170.00 567.65,170.00 567.73,170.00 567.82,170.00 567.90,170.00 567.99,170.00 568.08,170.00 568.16,170.00 569.28,170.00 569.75,170.00 569.83,170.00 569.92,170.00 570.00,170.00 570.09,170.00 570.18,170.00 570.26,170.00 570.35,170.00 570.43,170.00 570.52,170.00 570.61,170.00 570.69,170.00 570.78,170.00 570.86,170.00 570.95,170.00 571.03,170.00 571.12,170.00 571.21,170.00 571.29,170.00 571.38,170.00 571.42,170.00 571.46,169.99 571.55,169.99 571.63,169.98 571.72,169.95 571.81,169.92 571.89,169.90 571.98,169.92 572.06,169.95 572.15,169.98 572.23,169.99 572.32,169.99 572.41,170.00 572.49,170.00 572.58,170.00 572.66,170.00 572.75,170.00 572.84,170.00 572.92,170.00 573.01,170.00 573.09,170.00 573.18,170.00 573.26,170.00 573.35,170.00 573.44,170.00 573.52,170.00 573.56,170.00 573.61,170.00 573.69,170.00 573.78,170.00 573.86,170.00 573.95,170.00 575.71,170.00 577.85,170.00 580.00,170.00 582.14,170.00 584.28,170.00 586.43,170.00 588.57,170.00 590.72,170.00 591.92,170.00 592.00,170.00 592.09,170.00 592.17,170.00 592.26,170.00 592.35,169.99 592.43,169.99 592.52,169.99 592.60,169.99 592.69,169.99 592.77,169.99 592.86,169.99 592.95,169.99 593.03,169.99 593.12,169.98 593.20,169.98 593.29,169.97 593.37,169.97 593.46,169.96 593.55,169.94 593.63,169.91 593.72,169.81 593.80,169.57 593.89,169.10 593.97,168.51 594.06,168.20 594.15,168.51 594.23,169.10 594.32,169.57 594.40,169.81 594.49,169.91 594.58,169.94 594.66,169.96 594.75,169.97 594.83,169.97 594.92,169.98 595.00,169.98 595.09,169.99 595.18,169.99 595.26,169.99 595.35,169.99 595.43,169.99 595.52,169.99 595.60,169.99 595.69,169.99 595.78,169.99 595.86,170.00 595.95,170.00 596.03,170.00 596.12,170.00 597.15,170.00 599.29,170.00 601.44,170.00 603.58,170.00 605.72,170.00 607.65,170.00 607.74,170.00 607.83,169.99 607.87,169.99 607.91,169.99 608.00,169.99 608.08,169.99 608.17,169.99 608.25,169.99 608.34,169.99 608.43,169.99 608.51,169.99 608.60,169.99 608.68,169.98 608.77,169.98 608.85,169.98 608.94,169.97 609.03,169.97 609.11,169.96 609.20,169.95 609.28,169.93 609.37,169.88 609.45,169.76 609.54,169.45 609.63,168.85 609.71,168.09 609.80,167.70 609.88,168.09 609.97,168.85 610.01,169.19 610.05,169.45 610.14,169.76 610.23,169.88 610.31,169.93 610.40,169.95 610.48,169.96 610.57,169.97 610.66,169.97 610.74,169.98 610.83,169.98 610.91,169.98 611.00,169.99 611.08,169.99 611.17,169.99 611.26,169.99 611.34,169.99 611.43,169.99 611.51,169.99 611.60,169.99 611.68,169.99 611.77,169.99 611.86,170.00 612.16,170.00 614.30,170.00 616.44,170.00 618.59,170.00 620.73,170.00 622.88,170.00 625.02,170.00 627.16,170.00 629.31,170.00 631.45,170.00 632.65,169.99 632.74,169.99 632.82,169.99 632.91,169.99 633.00,169.99 633.08,169.99 633.17,169.99 633.25,169.99 633.34,169.99 633.42,169.98 633.51,169.98 633.60,169.98 633.68,169.98 633.77,169.97 633.85,169.97 633.94,169.96 634.02,169.95 634.11,169.94 634.20,169.92 634.28,169.90 634.37,169.83 634.45,169.66 634.54,169.21 634.63,168.35 634.71,167.27 634.80,166.70 634.88,167.27 634.97,168.35 635.05,169.21 635.14,169.66 635.23,169.83 635.31,169.90 635.40,169.92 635.48,169.94 635.57,169.95 635.65,169.96 635.74,169.97 635.83,169.97 635.91,169.98 636.00,169.98 636.08,169.98 636.17,169.98 636.25,169.99 636.34,169.99 636.43,169.99 636.51,169.99 636.60,169.99 636.68,169.99 636.77,169.99 636.85,169.99 637.88,170.00 640.03,170.00 642.17,170.00 644.32,170.00 646.46,170.00 647.06,170.00 647.15,170.00 647.23,170.00 647.32,170.00 647.40,170.00 647.49,170.00 647.57,170.00 647.66,170.00 647.75,170.00 647.83,170.00 647.92,170.00 648.00,170.00 648.09,170.00 648.18,170.00 648.26,170.00 648.35,170.00 648.43,170.00 648.52,169.99 648.60,169.99 648.69,169.99 648.78,169.98 648.86,169.97 648.95,169.93 649.03,169.85 649.12,169.75 649.20,169.70 649.29,169.75 649.38,169.85 649.46,169.93 649.55,169.97 649.63,169.98 649.72,169.99 649.80,169.99 649.89,169.99 649.98,170.00 650.06,170.00 650.15,170.00 650.23,170.00 650.32,170.00 650.40,170.00 650.49,170.00 650.58,170.00 650.66,170.00 650.75,170.00 650.83,170.00 650.92,170.00 651.01,170.00 651.09,170.00 651.18,170.00 651.26,170.00 651.82,170.00 651.91,170.00 651.99,170.00 652.08,170.00 652.16,170.00 652.25,170.00 652.33,170.00 652.42,170.00 652.51,170.00 652.59,170.00 652.68,170.00 652.76,170.00 652.85,170.00 652.89,170.00 652.93,170.00 653.02,170.00 653.11,170.00 653.19,170.00 653.28,170.00 653.36,170.00 653.45,170.00 653.54,170.00 653.62,170.00 653.71,170.00 653.79,170.00 653.88,170.00 653.96,170.00 654.05,170.00 654.14,170.00 654.22,170.00 654.31,170.00 654.39,170.00 654.48,170.00 654.56,170.00 654.65,170.00 654.74,170.00 654.82,170.00 654.91,170.00 654.99,170.00 655.04,170.00 655.08,170.00 655.16,170.00 655.25,170.00 655.34,170.00 655.42,170.00 655.51,170.00 655.59,170.00 655.68,170.00 655.76,170.00 655.85,170.00 655.94,170.00 656.02,170.00 657.18,170.00 659.32,170.00 661.47,170.00 663.61,170.00 665.76,170.00 667.90,170.00 670.04,170.00 670.39,170.00 670.47,170.00 670.56,170.00 670.64,170.00 670.73,170.00 670.82,170.00 670.90,170.00 670.99,170.00 671.07,169.99 671.16,169.99 671.24,169.99 671.33,169.99 671.42,169.99 671.50,169.99 671.59,169.99 671.67,169.98 671.76,169.98 671.84,169.98 671.93,169.97 672.02,169.96 672.10,169.93 672.19,169.87 672.27,169.69 672.36,169.35 672.45,168.92 672.53,168.70 672.62,168.92 672.70,169.35 672.79,169.69 672.87,169.87 672.96,169.93 673.05,169.96 673.13,169.97 673.22,169.98 673.30,169.98 673.39,169.98 673.47,169.99 673.56,169.99 673.65,169.99 673.73,169.99 673.82,169.99 673.90,169.99 673.99,169.99 674.07,170.00 674.16,170.00 674.25,170.00 674.33,170.00 674.42,170.00 674.50,170.00 674.59,170.00 676.48,170.00 678.62,170.00 680.76,170.00 682.91,170.00 684.11,170.00 684.19,170.00 684.28,170.00 684.37,170.00 684.45,170.00 684.54,170.00 684.62,170.00 684.71,170.00 684.79,170.00 684.88,170.00 684.97,170.00 685.05,170.00 685.14,170.00 685.22,170.00 685.31,170.00 685.40,170.00 685.48,170.00 685.57,170.00 685.65,170.00 685.74,170.00 685.82,170.00 685.91,170.00 686.00,170.00 686.08,170.00 686.17,170.00 686.25,170.00 686.34,170.00 686.42,170.00 686.51,170.00 686.60,170.00 686.68,170.00 686.77,170.00 686.85,170.00 686.94,170.00 687.02,170.00 687.11,170.00 687.20,170.00 687.28,170.00 687.37,170.00 687.45,170.00 687.54,170.00 687.62,170.00 687.71,170.00 687.80,170.00 687.88,170.00 687.97,170.00 688.05,170.00 688.14,170.00 688.23,170.00 688.31,170.00 688.61,170.00 688.70,170.00 688.78,170.00 688.87,170.00 688.95,170.00 689.04,170.00 689.13,170.00 689.21,170.00 689.30,170.00 689.34,170.00 689.38,170.00 689.47,170.00 689.55,170.00 689.64,170.00 689.73,170.00 689.81,170.00 689.90,170.00 689.98,170.00 690.07,169.99 690.15,169.99 690.24,169.99 690.33,169.98 690.41,169.97 690.50,169.93 690.58,169.85 690.67,169.75 690.76,169.70 690.84,169.75 690.93,169.85 691.01,169.93 691.10,169.97 691.18,169.98 691.27,169.99 691.36,169.99 691.44,169.99 691.48,170.00 691.53,170.00 691.61,170.00 691.70,170.00 691.78,170.00 691.87,170.00 691.96,170.00 692.04,170.00 692.13,170.00 692.21,170.00 692.30,170.00 692.38,170.00 692.47,170.00 692.56,170.00 692.64,170.00 692.73,170.00 692.81,170.00 693.63,170.00 695.77,170.00 697.92,170.00 700.00,170.00" fill="none" stroke="#1d4f80" stroke-width="1.7" stroke-linejoin="round"/>
<g stroke="#000" stroke-width="1.7"><line x1="437.98" y1="224.7" x2="437.98" y2="179.70"/><line x1="490.25" y1="224.7" x2="490.25" y2="195.10"/><line x1="514.00" y1="224.7" x2="514.00" y2="221.70"/><line x1="521.25" y1="224.7" x2="521.25" y2="193.00"/><line x1="547.92" y1="224.7" x2="547.92" y2="201.70"/><line x1="571.89" y1="224.7" x2="571.89" y2="222.00"/><line x1="594.06" y1="224.7" x2="594.06" y2="218.90"/><line x1="609.80" y1="224.7" x2="609.80" y2="217.90"/><line x1="634.80" y1="224.7" x2="634.80" y2="217.40"/><line x1="649.20" y1="224.7" x2="649.20" y2="221.70"/><line x1="653.96" y1="224.7" x2="653.96" y2="222.70"/><line x1="672.53" y1="224.7" x2="672.53" y2="219.70"/><line x1="690.76" y1="224.7" x2="690.76" y2="221.70"/></g>
<rect x="400.6" y="2.2" width="299.40" height="222.50" fill="none" stroke="#000" stroke-width="2"/>
<g stroke="#000" stroke-width="2"><line x1="400.60" y1="224.7" x2="400.60" y2="228.6"/><line x1="442.78" y1="224.7" x2="442.78" y2="228.6"/><line x1="485.66" y1="224.7" x2="485.66" y2="228.6"/><line x1="528.54" y1="224.7" x2="528.54" y2="228.6"/><line x1="571.42" y1="224.7" x2="571.42" y2="228.6"/><line x1="614.30" y1="224.7" x2="614.30" y2="228.6"/><line x1="657.18" y1="224.7" x2="657.18" y2="228.6"/><line x1="700.00" y1="224.7" x2="700.00" y2="228.6"/></g>
<text x="395.24" y="243.30" font-size="12" font-weight="bold" textLength="12.61" lengthAdjust="spacingAndGlyphs" fill="#000" >10</text>
<text x="437.95" y="243.30" font-size="12" font-weight="bold" textLength="12.07" lengthAdjust="spacingAndGlyphs" fill="#000" >20</text>
<text x="480.83" y="243.30" font-size="12" font-weight="bold" textLength="12.07" lengthAdjust="spacingAndGlyphs" fill="#000" >30</text>
<text x="524.07" y="243.30" font-size="12" font-weight="bold" textLength="11.68" lengthAdjust="spacingAndGlyphs" fill="#000" >40</text>
<text x="566.59" y="243.30" font-size="12" font-weight="bold" textLength="12.07" lengthAdjust="spacingAndGlyphs" fill="#000" >50</text>
<text x="609.59" y="243.30" font-size="12" font-weight="bold" textLength="11.94" lengthAdjust="spacingAndGlyphs" fill="#000" >60</text>
<text x="652.09" y="243.30" font-size="12" font-weight="bold" textLength="12.33" lengthAdjust="spacingAndGlyphs" fill="#000" >70</text>
<text x="695.29" y="243.30" font-size="12" font-weight="bold" textLength="11.94" lengthAdjust="spacingAndGlyphs" fill="#000" >80</text>
<text x="506.97" y="262.70" font-size="17.5" font-weight="bold" textLength="86.28" lengthAdjust="spacingAndGlyphs" fill="#000" >2θ (degree)</text>
<text x="362.04" y="22.80" font-size="25.5" font-weight="bold" textLength="32.38" lengthAdjust="spacingAndGlyphs" fill="#000" >(b)</text>
<g transform="translate(391.5,168.1) rotate(-90)"><text x="-0.54" y="0.00" font-size="17.8" font-weight="bold" textLength="111.56" lengthAdjust="spacingAndGlyphs" fill="#000" >Intensity (a.u.)</text></g>
<text x="611.18" y="44.80" font-size="14" font-weight="bold" textLength="76.53" lengthAdjust="spacingAndGlyphs" fill="#000" >IASP-KSFM</text>
<text x="629.30" y="99.10" font-size="14" font-weight="bold" textLength="61.50" lengthAdjust="spacingAndGlyphs" fill="#000" >SP-KSFM</text>
<text x="650.33" y="146.50" font-size="14" font-weight="bold" textLength="39.36" lengthAdjust="spacingAndGlyphs" fill="#000" >KSFM</text>
<text x="610.32" y="197.60" font-size="14" font-weight="bold" textLength="80.01" lengthAdjust="spacingAndGlyphs" fill="#000" >PDF#75-0694</text>
</svg></body></html>
